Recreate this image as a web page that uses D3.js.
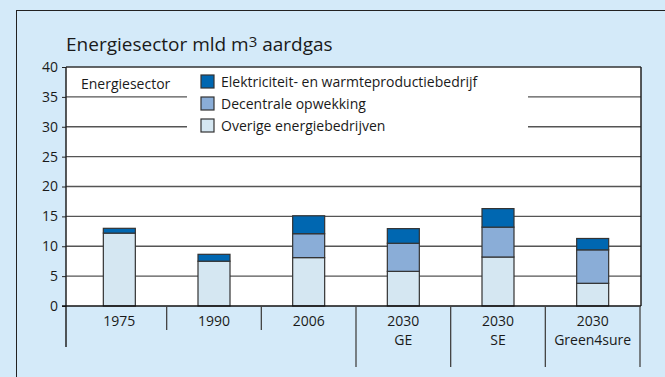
<!DOCTYPE html>
<html>
<head>
<meta charset="utf-8">
<script src="https://cdn.jsdelivr.net/npm/d3@7"></script>
<style>
  html, body { margin: 0; padding: 0; background: #d4eaf9; }
  svg { display: block; }
  text { font-family: "Open Sans", "Noto Sans", sans-serif; fill: #1a1a1a; }
</style>
</head>
<body>
<svg id="chart" width="665" height="377"></svg>
<script>
// Gas use of the energy sector, billion m3 natural gas
const categories = [["1975"], ["1990"], ["2006"], ["2030", "GE"], ["2030", "SE"], ["2030", "Green4sure"]];
const overige    = [12.2, 7.5, 8.1, 5.8, 8.2, 3.8];
const decentrale = [0.0, 0.0, 4.0, 4.7, 5.0, 5.6];
const elektriciteit = [0.8, 1.15, 3.0, 2.45, 3.1, 1.9];
const yTicks = [0, 5, 10, 15, 20, 25, 30, 35, 40];
const seriesNames = ["Overige energiebedrijven", "Decentrale opwekking", "Elektriciteit- en warmteproductiebedrijf"];
const seriesColors = ["#d5e7f2", "#8aadd7", "#0067b1"];

const svg = d3.select("#chart");

const plot = { left: 66, right: 641, top: 67, bottom: 306 };

const y = d3.scaleLinear().domain([0, 40]).range([plot.bottom, plot.top]);
const x = d3.scalePoint()
  .domain(d3.range(categories.length))
  .range([72, 640])
  .padding(0.5);
const step = x.step();
const barW = 32;

// outer frame: top and left rules
svg.append("line").attr("x1", 16).attr("x2", 665).attr("y1", 10.5).attr("y2", 10.5)
  .attr("stroke", "#222").attr("stroke-width", 1);
svg.append("line").attr("x1", 16.5).attr("x2", 16.5).attr("y1", 10).attr("y2", 377)
  .attr("stroke", "#222").attr("stroke-width", 1);

// title
const title = svg.append("text").attr("x", 66).attr("y", 51).attr("font-size", 19);
title.append("tspan").text("Energiesector mld m");
title.append("tspan").attr("font-size", 15).attr("dy", -4).text("3");
title.append("tspan").attr("dy", 4).text(" aardgas");

// white plot area
svg.append("rect")
  .attr("x", plot.left).attr("y", plot.top)
  .attr("width", plot.right - plot.left).attr("height", plot.bottom - plot.top)
  .attr("fill", "#fff");

// gridlines
svg.append("g").selectAll("line").data(yTicks.filter(t => t > 0 && t < 40)).join("line")
  .attr("x1", plot.left).attr("x2", plot.right)
  .attr("y1", d => y(d)).attr("y2", d => y(d))
  .attr("stroke", "#555").attr("stroke-width", 1.3);

// legend area clears the upper gridlines
svg.append("rect").attr("x", 187).attr("y", 70).attr("width", 341).attr("height", 72).attr("fill", "#fff");

// y axis with ticks on the left
const yAxis = d3.axisLeft(y).tickValues(yTicks).tickSize(4).tickPadding(4);
const ya = svg.append("g").attr("transform", `translate(${plot.left},0)`).call(yAxis);
ya.select(".domain").remove();
ya.selectAll(".tick line").attr("stroke", "#222");
ya.selectAll(".tick text").attr("font-size", 14).attr("fill", "#1a1a1a")
  .attr("font-family", "'Open Sans', 'Noto Sans', sans-serif");

// stacked bars
const rows = categories.map((c, i) => ({ i, overige: overige[i], decentrale: decentrale[i], elektriciteit: elektriciteit[i] }));
const stack = d3.stack().keys(["overige", "decentrale", "elektriciteit"])(rows);
svg.append("g").selectAll("g").data(stack).join("g")
  .attr("fill", (d, k) => seriesColors[k])
  .selectAll("rect").data(d => d.filter(s => s[1] - s[0] > 0)).join("rect")
  .attr("x", d => x(d.data.i) - barW / 2)
  .attr("width", barW)
  .attr("y", d => y(d[1]))
  .attr("height", d => y(d[0]) - y(d[1]))
  .attr("stroke", "#333").attr("stroke-width", 1.2);

// plot frame: right and top edges
svg.append("line").attr("x1", plot.left).attr("x2", plot.right).attr("y1", plot.top).attr("y2", plot.top)
  .attr("stroke", "#333").attr("stroke-width", 1.3);
svg.append("line").attr("x1", plot.right).attr("x2", plot.right).attr("y1", plot.top).attr("y2", plot.bottom)
  .attr("stroke", "#222").attr("stroke-width", 1.5);

// left axis line, extended below the category row
svg.append("line").attr("x1", plot.left).attr("x2", plot.left).attr("y1", plot.top).attr("y2", 347)
  .attr("stroke", "#222").attr("stroke-width", 1.5);
// baseline
svg.append("line").attr("x1", plot.left - 4).attr("x2", plot.right).attr("y1", plot.bottom).attr("y2", plot.bottom)
  .attr("stroke", "#111").attr("stroke-width", 1.6);

// category dividers below the axis
svg.append("g").selectAll("line").data(d3.range(1, categories.length + 1)).join("line")
  .attr("x1", i => x(i - 1) + step / 2).attr("x2", i => x(i - 1) + step / 2)
  .attr("y1", plot.bottom)
  .attr("y2", i => (i <= 2 ? 330 : 367))
  .attr("stroke", "#444").attr("stroke-width", 1.3);

// category labels
const lab = svg.append("g").selectAll("text").data(categories).join("text")
  .attr("text-anchor", "middle").attr("font-size", 14)
  .attr("x", (d, i) => x(i)).attr("y", 326);
lab.selectAll("tspan").data(d => d).join("tspan")
  .attr("x", function () { return d3.select(this.parentNode).attr("x"); })
  .attr("dy", (d, j) => (j === 0 ? 0 : 19))
  .text(d => d);

// legend
svg.append("text").attr("x", 81).attr("y", 89).attr("font-size", 14).text("Energiesector");
const legendOrder = [2, 1, 0];
const lg = svg.append("g").selectAll("g").data(legendOrder).join("g")
  .attr("transform", (k, j) => `translate(201,${75 + j * 22})`);
lg.append("rect").attr("width", 13).attr("height", 13)
  .attr("fill", k => seriesColors[k]).attr("stroke", "#333").attr("stroke-width", 1.2);
lg.append("text").attr("x", 20).attr("y", 12).attr("font-size", 14).text(k => seriesNames[k]);
</script>
</body>
</html>
